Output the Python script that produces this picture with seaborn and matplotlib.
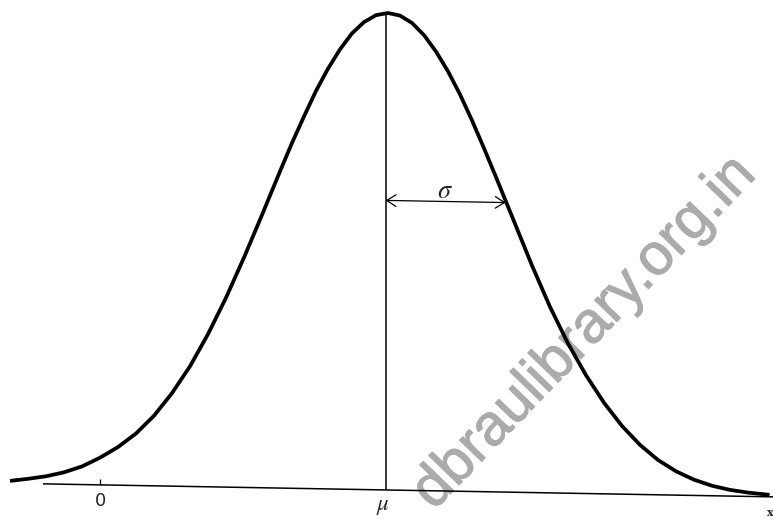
import numpy as np
import pandas as pd
import matplotlib
matplotlib.use('Agg')
import matplotlib.pyplot as plt
import matplotlib.transforms as mtransforms
import matplotlib.patheffects as pe
import seaborn as sns

# curve: x in sigma units (0 at the "0" tick), y as a
# fraction of the peak height
CURVE_X = [-0.75, -0.60, -0.45, -0.30, -0.15, 0.00, 0.15, 0.30, 0.45, 0.60,
           0.75, 0.90, 1.05, 1.20, 1.35, 1.50, 1.60, 1.70, 1.80, 1.90,
           2.00, 2.10, 2.20, 2.30, 2.40, 2.50, 2.60, 2.70, 2.80, 2.90,
           3.00, 3.10, 3.20, 3.30, 3.45, 3.60, 3.75, 3.90, 4.05, 4.20,
           4.35, 4.50, 4.65, 4.80, 4.95, 5.10, 5.25, 5.40, 5.58]
CURVE_Y = [0.005, 0.010, 0.016, 0.025, 0.038, 0.057, 0.080, 0.109, 0.147, 0.195,
           0.252, 0.320, 0.397, 0.482, 0.572, 0.664, 0.724, 0.780, 0.834, 0.881,
           0.922, 0.956, 0.980, 0.995, 1.000, 0.995, 0.980, 0.955, 0.921, 0.880,
           0.832, 0.778, 0.720, 0.660, 0.568, 0.476, 0.390, 0.314, 0.248, 0.191,
           0.143, 0.104, 0.073, 0.050, 0.033, 0.021, 0.013, 0.008, 0.004]

MU = 2.38
SIGMA = 1.0
SIGMA_LEVEL = 0.607
AXIS_RANGE = [-0.475, 5.61]
TICK_X = [0.0]
TICK_LABELS = ['0']
WATERMARK = 'dbraulibrary.org.in'

df = pd.DataFrame({'x': CURVE_X, 'density': CURVE_Y})

sns.set_theme(style='white')
plt.rcParams['font.family'] = ['DejaVu Sans']
plt.rcParams['mathtext.fontset'] = 'stix'

fig = plt.figure(figsize=(7.73, 5.19), dpi=100)
ax = fig.add_axes([0, 0, 1, 1])
ax.set_xlim(-100 / 120, 673 / 120)
ax.set_ylim(-29 / 477, 490 / 477)
ax.set_axis_off()

# the scanned page is slightly tilted: skew everything around the foot of mu
tilt = (mtransforms.Affine2D().translate(-388, -29)
        .skew_deg(0, -1.02).translate(388, 29))
skewed = ax.transData + tilt

sns.lineplot(data=df, x='x', y='density', ax=ax, color='black', lw=2.7,
             sort=False, estimator=None)
ax.lines[-1].set_transform(skewed)
ax.lines[-1].set_solid_capstyle('butt')
ax.lines[-1].set_solid_joinstyle('round')

base = ax.hlines(0, AXIS_RANGE[0], AXIS_RANGE[1], color='black', lw=1.1)
base.set_transform(skewed)
mline = ax.vlines(MU, 0, 1.0, color='black', lw=1.1)
mline.set_transform(skewed)
ticks = ax.vlines(TICK_X, 0, 0.013, color='black', lw=0.9)
ticks.set_transform(skewed)

ax.annotate('', xy=(MU + SIGMA, SIGMA_LEVEL), xytext=(MU, SIGMA_LEVEL),
            xycoords=skewed, textcoords=skewed,
            arrowprops=dict(arrowstyle='<->,head_length=0.55,head_width=0.35',
                            lw=0.9, color='black', shrinkA=0, shrinkB=0))

t = ax.text(2.875, 0.630, r'$\sigma$', fontsize=19, ha='center', va='center')
t.set_transform(skewed)
for tx, lab in zip(TICK_X, TICK_LABELS):
    t = ax.text(tx, -0.034, lab, fontsize=13, ha='center', va='center')
    t.set_transform(skewed)
t = ax.text(MU - 0.02, -0.033, r'$\mu$', fontsize=16.5, ha='center', va='center')
t.set_transform(skewed)
t = ax.text(5.555, -0.034, 'x', fontsize=8, ha='left', va='center',
            family='DejaVu Serif', weight='bold')
t.set_transform(skewed)

ax.text(585 / 773, 1 - 333 / 519, WATERMARK, transform=ax.transAxes,
        rotation=46, ha='center', va='center', fontsize=42,
        family='Liberation Sans', color='#ababab', zorder=0.5,
        path_effects=[pe.withStroke(linewidth=0.8, foreground='#ababab')])

fig.savefig('out.png', dpi=100, facecolor='white')
